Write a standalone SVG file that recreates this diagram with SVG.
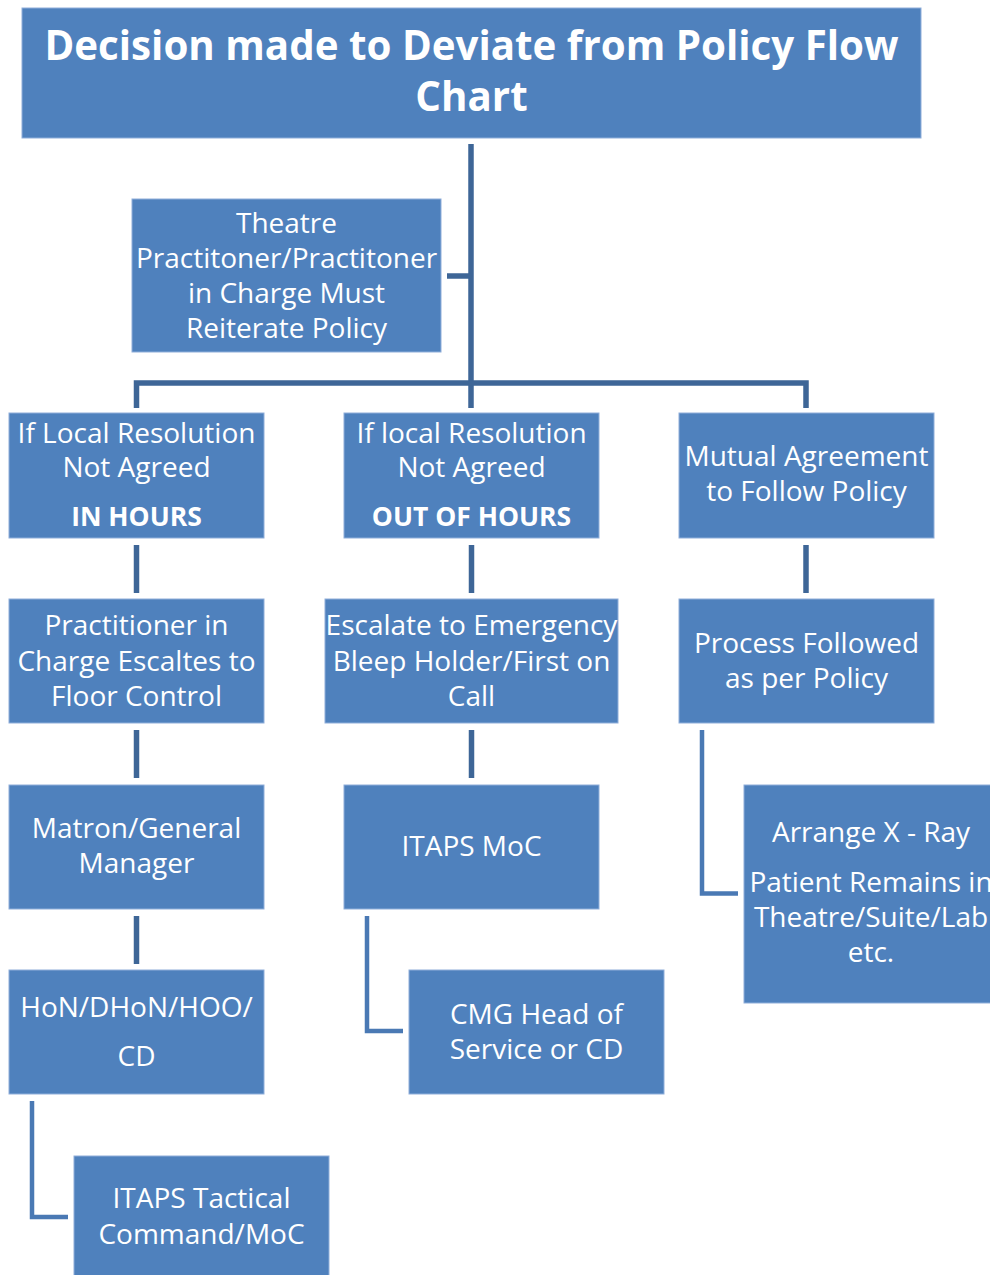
<svg xmlns="http://www.w3.org/2000/svg" width="990" height="1275" viewBox="0 0 990 1275">
<style>
.box{fill:#4F81BD;stroke:#8FAEDA;stroke-width:1}
.t{font-family:"Open Sans","Noto Sans",sans-serif;font-size:28px;fill:#FFFFFF;text-anchor:middle}
.b{font-weight:bold;font-size:26.5px}
.title{font-family:"Open Sans","Noto Sans",sans-serif;font-size:40.3px;font-weight:bold;fill:#FFFFFF;text-anchor:middle}
.c1{fill:none;stroke:#3E6697;stroke-width:5.5}
.c2{fill:none;stroke:#4A79B4;stroke-width:4.5}
</style>
<rect width="990" height="1275" fill="#FFFFFF"/>
<g id="connectors">
<path class="c1" d="M471,144 V408"/>
<path class="c1" d="M447,276 H471"/>
<path class="c1" d="M136.5,408 V383 H806 V408"/>
<path class="c1" d="M136.5,545 V593"/>
<path class="c1" d="M471.5,545 V593"/>
<path class="c1" d="M806,545 V593"/>
<path class="c1" d="M136.5,730 V778"/>
<path class="c1" d="M471.5,730 V778"/>
<path class="c1" d="M136.5,916 V964"/>
<path class="c2" d="M702,730 V893.5 H738"/>
<path class="c2" d="M367,916 V1031 H403"/>
<path class="c2" d="M32,1101 V1217 H68"/>
</g>
<g id="title">
<rect class="box" x="22" y="8" width="899" height="130"/>
<text class="title" x="471.5" y="59.5">Decision made to Deviate from Policy Flow</text>
<text class="title" x="471.5" y="111">Chart</text>
</g>
<g id="theatre">
<rect class="box" x="132" y="199" width="309" height="153"/>
<text class="t" x="286.5" y="233">Theatre</text>
<text class="t" x="286.5" y="268">Practitoner/Practitoner</text>
<text class="t" x="286.5" y="303">in Charge Must</text>
<text class="t" x="286.5" y="337.5">Reiterate Policy</text>
</g>
<g id="in-hours">
<rect class="box" x="9" y="413" width="255" height="125"/>
<text class="t" x="136.5" y="442.5">If Local Resolution</text>
<text class="t" x="136.5" y="477">Not Agreed</text>
<text class="t b" x="136.5" y="526">IN HOURS</text>
</g>
<g id="out-of-hours">
<rect class="box" x="344" y="413" width="255" height="125"/>
<text class="t" x="471.5" y="442.5">If local Resolution</text>
<text class="t" x="471.5" y="477">Not Agreed</text>
<text class="t b" x="471.5" y="526">OUT OF HOURS</text>
</g>
<g id="mutual">
<rect class="box" x="679" y="413" width="255" height="125"/>
<text class="t" x="806.5" y="466">Mutual Agreement</text>
<text class="t" x="806.5" y="501">to Follow Policy</text>
</g>
<g id="practitioner">
<rect class="box" x="9" y="599" width="255" height="124"/>
<text class="t" x="136.5" y="635">Practitioner in</text>
<text class="t" x="136.5" y="671">Charge Escaltes to</text>
<text class="t" x="136.5" y="706">Floor Control</text>
</g>
<g id="escalate">
<rect class="box" x="325" y="599" width="293" height="124"/>
<text class="t" x="471.5" y="635">Escalate to Emergency</text>
<text class="t" x="471.5" y="671">Bleep Holder/First on</text>
<text class="t" x="471.5" y="706">Call</text>
</g>
<g id="process">
<rect class="box" x="679" y="599" width="255" height="124"/>
<text class="t" x="806.5" y="653">Process Followed</text>
<text class="t" x="806.5" y="688">as per Policy</text>
</g>
<g id="matron">
<rect class="box" x="9" y="785" width="255" height="124"/>
<text class="t" x="136.5" y="838">Matron/General</text>
<text class="t" x="136.5" y="873">Manager</text>
</g>
<g id="itaps-moc">
<rect class="box" x="344" y="785" width="255" height="124"/>
<text class="t" x="471.5" y="856">ITAPS MoC</text>
</g>
<g id="xray">
<rect class="box" x="744" y="785" width="260" height="218"/>
<text class="t" x="871" y="842">Arrange X - Ray</text>
<text class="t" x="871" y="892">Patient Remains in</text>
<text class="t" x="871" y="927">Theatre/Suite/Lab</text>
<text class="t" x="871" y="962">etc.</text>
</g>
<g id="hon">
<rect class="box" x="9" y="970" width="255" height="124"/>
<text class="t" x="136.5" y="1017">HoN/DHoN/HOO/</text>
<text class="t" x="136.5" y="1066">CD</text>
</g>
<g id="cmg">
<rect class="box" x="409" y="970" width="255" height="124"/>
<text class="t" x="536.5" y="1024">CMG Head of</text>
<text class="t" x="536.5" y="1059">Service or CD</text>
</g>
<g id="itaps-tactical">
<rect class="box" x="74" y="1156" width="255" height="124"/>
<text class="t" x="201.5" y="1208">ITAPS Tactical</text>
<text class="t" x="201.5" y="1244">Command/MoC</text>
</g>
</svg>
